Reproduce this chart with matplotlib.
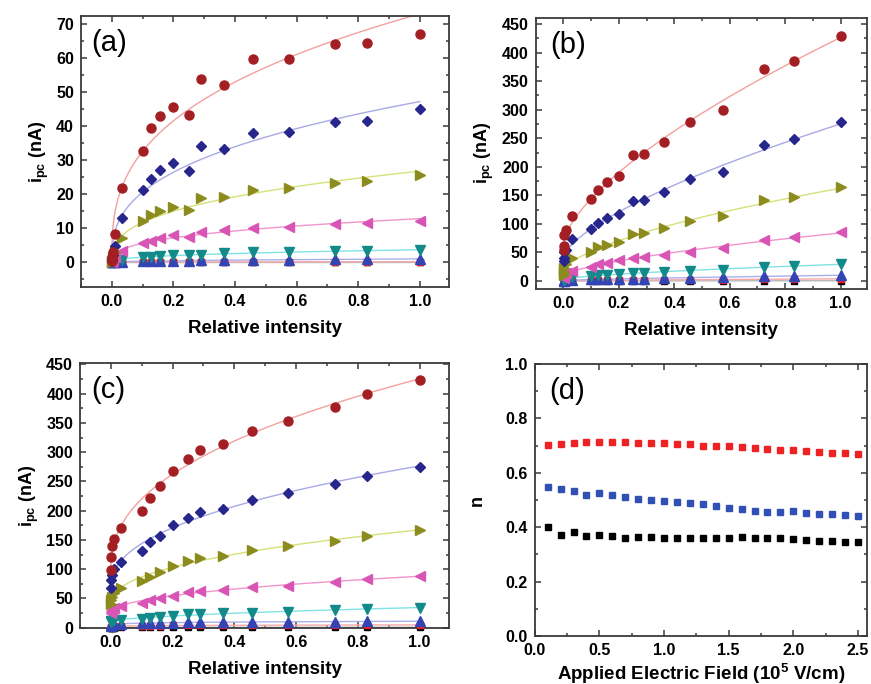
import numpy as np
import matplotlib
matplotlib.use("Agg")
from matplotlib import pyplot as plt
from matplotlib.ticker import MultipleLocator, FormatStrFormatter

plt.rcParams['font.family'] = ['Liberation Sans', 'DejaVu Sans']
plt.rcParams['mathtext.fontset'] = 'custom'
plt.rcParams['mathtext.rm'] = 'Liberation Sans:bold'
plt.rcParams['mathtext.bf'] = 'Liberation Sans:bold'

# relative intensity (same for panels a-c)
intensity = np.array([0.0005, 0.001, 0.003, 0.01, 0.032, 0.1, 0.126, 0.158, 0.2,
                      0.251, 0.29, 0.363, 0.457, 0.575, 0.725, 0.83, 1.0])

# panel (a) photocurrent, nA
a_circle = [0.5, 1.5, 3.0, 8.2, 21.7, 32.8, 39.4, 43.0, 45.7, 43.3, 53.8, 52.2, 59.9, 59.9, 64.2, 64.4, 67.1]
a_diamond = [0.3, 1.0, 2.0, 4.9, 13.1, 21.2, 24.5, 27.0, 29.1, 26.7, 34.2, 33.3, 38.1, 38.3, 41.2, 41.6, 45.1]
a_right = [0.2, 0.5, 1.5, 3.0, 7.2, 12.0, 13.8, 15.2, 16.3, 15.3, 19.0, 19.1, 21.4, 21.7, 23.4, 23.8, 25.7]
a_left = [0.1, 0.3, 0.8, 1.6, 3.3, 5.8, 6.4, 7.1, 7.9, 7.5, 8.8, 9.5, 10.1, 10.5, 11.2, 11.5, 12.2]
a_down = [0.0, 0.1, 0.3, 0.5, 0.8, 1.7, 1.7, 1.9, 2.2, 2.0, 2.2, 2.6, 2.9, 2.9, 3.3, 3.3, 3.6]
a_up = [0.0, 0.0, 0.1, 0.1, 0.2, 0.3, 0.35, 0.4, 0.5, 0.45, 0.55, 0.6, 0.7, 0.75, 0.85, 0.9, 1.0]
a_square = [0.0, 0.0, 0.0, 0.0, 0.05, 0.05, 0.05, 0.05, 0.1, 0.1, 0.1, 0.1, 0.1, 0.1, 0.15, 0.15, 0.2]
a_black = [0.0] * 17

# panel (b)
b_circle = [55, 62, 80, 90, 113, 144, 160, 173, 184, 220, 222, 244, 278, 299, 371, 385, 429]
b_diamond = [35, 40, 50, 55, 73, 90.5, 102, 110, 118, 140, 141, 155, 178, 191, 238, 248, 278]
b_right = [10, 15, 22, 30, 40, 50, 59, 63, 69, 82, 83.5, 92, 105, 113, 141, 147, 165]
b_left = [6, 8, 11, 14, 18, 25, 29, 31, 37, 41, 41.5, 45.5, 51.5, 57, 72, 76.5, 85]
b_down = [1.5, 2, 3.5, 5, 6.5, 9, 10.5, 11, 11.5, 13.5, 14, 15.5, 17.5, 19.5, 24.5, 26.5, 30]
b_up = [0.3, 0.5, 1, 1.5, 2, 3, 3.2, 3.4, 3.6, 4, 4.2, 4.8, 5.5, 6.2, 8, 8.8, 10.5]
b_square = [0.1, 0.2, 0.3, 0.5, 0.7, 1, 1.1, 1.2, 1.3, 1.5, 1.6, 1.8, 2.1, 2.4, 3, 3.3, 3.8]
b_black = [0.0, 0.0, 0.0, 0.0, 0.0, 0.1, 0.1, 0.1, 0.1, 0.1, 0.1, 0.2, 0.2, 0.2, 0.3, 0.3, 0.4]

# panel (c)
c_circle = [98, 120, 140, 151, 170, 200, 222, 241.5, 268, 288, 304, 314, 336, 354, 378, 400, 424]
c_diamond = [68, 82, 90, 100, 113, 131, 146, 157, 175, 187, 198, 203, 219, 231, 245, 260, 275]
c_right = [40, 47, 53, 60, 68, 80, 87, 95, 106, 114.5, 118.5, 122.5, 132, 139.5, 148.7, 157, 167]
c_left = [25, 28, 30, 33, 37, 43, 47, 51, 55, 61, 63, 64.5, 69.5, 72, 78, 82.5, 88.5]
c_down = [10, 11, 12, 13, 14, 15.5, 16.5, 18, 20.5, 23, 24, 24.5, 25.5, 27, 30, 32.5, 34.5]
c_up = [3, 4, 5, 6, 7, 8, 8, 8.5, 8.5, 9, 9, 9, 9.5, 10, 10.5, 11, 11.5]
c_square = [1, 1.5, 2, 2.5, 3, 3.5, 3.5, 3.5, 3.8, 3.8, 4, 4, 4, 4.2, 4.5, 4.5, 5]
c_black = [0.0, 0.1, 0.2, 0.3, 0.4, 0.5, 0.5, 0.5, 0.6, 0.6, 0.6, 0.6, 0.7, 0.7, 0.7, 0.8, 0.8]

# panel (d) exponent n vs field
field = [0.1, 0.2, 0.3, 0.4, 0.5, 0.6, 0.7, 0.8, 0.9, 1.0, 1.1, 1.2, 1.3,
         1.4, 1.5, 1.6, 1.7, 1.8, 1.9, 2.0, 2.1, 2.2, 2.3, 2.4, 2.5]
n_red = [0.701, 0.705, 0.710, 0.712, 0.712, 0.712, 0.712, 0.711, 0.710, 0.710, 0.706, 0.704, 0.700,
         0.699, 0.697, 0.693, 0.690, 0.687, 0.683, 0.682, 0.679, 0.676, 0.671, 0.672, 0.668]
n_blue = [0.547, 0.542, 0.534, 0.518, 0.525, 0.517, 0.511, 0.504, 0.501, 0.495, 0.491, 0.490, 0.484,
          0.477, 0.469, 0.467, 0.461, 0.457, 0.456, 0.458, 0.451, 0.447, 0.447, 0.446, 0.440]
n_black = [0.402, 0.370, 0.381, 0.369, 0.371, 0.366, 0.361, 0.364, 0.364, 0.361, 0.361, 0.362, 0.361,
           0.361, 0.361, 0.364, 0.359, 0.359, 0.361, 0.358, 0.353, 0.349, 0.350, 0.347, 0.344]

# marker, face colour, fit line colour
styles = [
    ('s', 'black', '#b8b8b8'),
    ('s', '#ee1c24', '#f7a8a8'),
    ('^', '#3344b5', '#a8b0ee'),
    ('v', '#138a8a', '#80e2e2'),
    ('<', '#d955b5', '#f295cc'),
    ('>', '#8c8c1e', '#d4e27a'),
    ('D', '#26268c', '#a9a9e6'),
    ('o', '#a31f24', '#f4a0a0'),
]
marker_size = {'s': 5, '^': 6.5, 'v': 6.5, '<': 6.5, '>': 6.5, 'D': 5.3, 'o': 6.5}


def fit_curve(x, y):
    # y = c + A * x**n (c kept >= 0), least squares over a grid of n
    best = None
    for n in np.linspace(0.05, 1.5, 146):
        B = np.column_stack([np.ones_like(x), x ** n])
        coef = np.linalg.lstsq(B, y, rcond=None)[0]
        if coef[0] < 0:
            A = np.sum(y * x ** n) / np.sum(x ** (2 * n))
            coef = np.array([0.0, A])
        err = np.sum((B @ coef - y) ** 2)
        if best is None or err < best[0]:
            best = (err, n, coef)
    xs = np.concatenate([np.linspace(0, 0.05, 200), np.linspace(0.05, 1.0, 300)])
    return xs, best[2][0] + best[2][1] * xs ** best[1]


def style_axes(ax):
    for sp in ax.spines.values():
        sp.set_linewidth(1.3)
        sp.set_color('#3a3a3a')
    ax.tick_params(which='both', direction='in', top=True, right=True,
                   color='#3a3a3a', labelsize=11.5, width=1.1)
    ax.tick_params(which='major', length=4.5, pad=5)
    ax.tick_params(which='minor', length=2.5)
    for lab in ax.get_xticklabels() + ax.get_yticklabels():
        lab.set_fontweight('bold')


def current_panel(ax, series, ylim, ymaj, ymin, letter, lx):
    x = intensity
    for (m, c, lc), y in zip(styles, series):
        y = np.array(y, dtype=float)
        xs, ys = fit_curve(x, y)
        ax.plot(xs, ys, color=lc, lw=1.0, zorder=2)
        ax.plot(x, y, m, color=c, mec=c, ms=marker_size[m], zorder=3, clip_on=False)
    ax.set_xlim(-0.1, 1.095)
    ax.set_ylim(*ylim)
    ax.xaxis.set_major_locator(MultipleLocator(0.2))
    ax.xaxis.set_minor_locator(MultipleLocator(0.1))
    ax.xaxis.set_major_formatter(FormatStrFormatter('%.1f'))
    ax.yaxis.set_major_locator(MultipleLocator(ymaj))
    ax.yaxis.set_minor_locator(MultipleLocator(ymin))
    ax.set_xlabel('Relative intensity', fontsize=13.5, fontweight='bold', labelpad=8)
    ax.set_ylabel(r'$\mathbf{i_{pc}}$ (nA)', fontsize=13, fontweight='bold', labelpad=4)
    ax.text(lx, 0.95, letter, transform=ax.transAxes, fontsize=21,
            ha='left', va='top')
    style_axes(ax)


fig = plt.figure(figsize=(8.71, 6.84), dpi=100)
ax_a = fig.add_axes([0.093, 0.580, 0.4225, 0.397])
ax_b = fig.add_axes([0.615, 0.578, 0.3804, 0.396])
ax_c = fig.add_axes([0.0918, 0.0823, 0.4237, 0.3867])
ax_d = fig.add_axes([0.614, 0.070, 0.3814, 0.398])

current_panel(ax_a, [a_black, a_square, a_up, a_down, a_left, a_right, a_diamond, a_circle],
              (-7.35, 72.5), 10, 5, '(a)', 0.027)
current_panel(ax_b, [b_black, b_square, b_up, b_down, b_left, b_right, b_diamond, b_circle],
              (-13.5, 461), 50, 25, '(b)', 0.045)
current_panel(ax_c, [c_black, c_square, c_up, c_down, c_left, c_right, c_diamond, c_circle],
              (0, 452), 50, 25, '(c)', 0.03)

for y, c in [(n_red, '#ee2222'), (n_blue, '#3050b5'), (n_black, 'black')]:
    ax_d.plot(field, y, 's', color=c, ms=4.5, zorder=3)
ax_d.set_xlim(0, 2.57)
ax_d.set_ylim(0, 1.0)
ax_d.xaxis.set_major_locator(MultipleLocator(0.5))
ax_d.xaxis.set_minor_locator(MultipleLocator(0.25))
ax_d.xaxis.set_major_formatter(FormatStrFormatter('%.1f'))
ax_d.yaxis.set_major_locator(MultipleLocator(0.2))
ax_d.yaxis.set_minor_locator(MultipleLocator(0.1))
ax_d.yaxis.set_major_formatter(FormatStrFormatter('%.1f'))
ax_d.set_xlabel(r'Applied Electric Field (10$^{5}$ V/cm)', fontsize=13.5,
                fontweight='bold', labelpad=2)
ax_d.set_ylabel('n', fontsize=13, fontweight='bold', labelpad=14)
ax_d.text(0.045, 0.95, '(d)', transform=ax_d.transAxes, fontsize=21,
          ha='left', va='top')
style_axes(ax_d)

fig.savefig('out.png', dpi=100)
